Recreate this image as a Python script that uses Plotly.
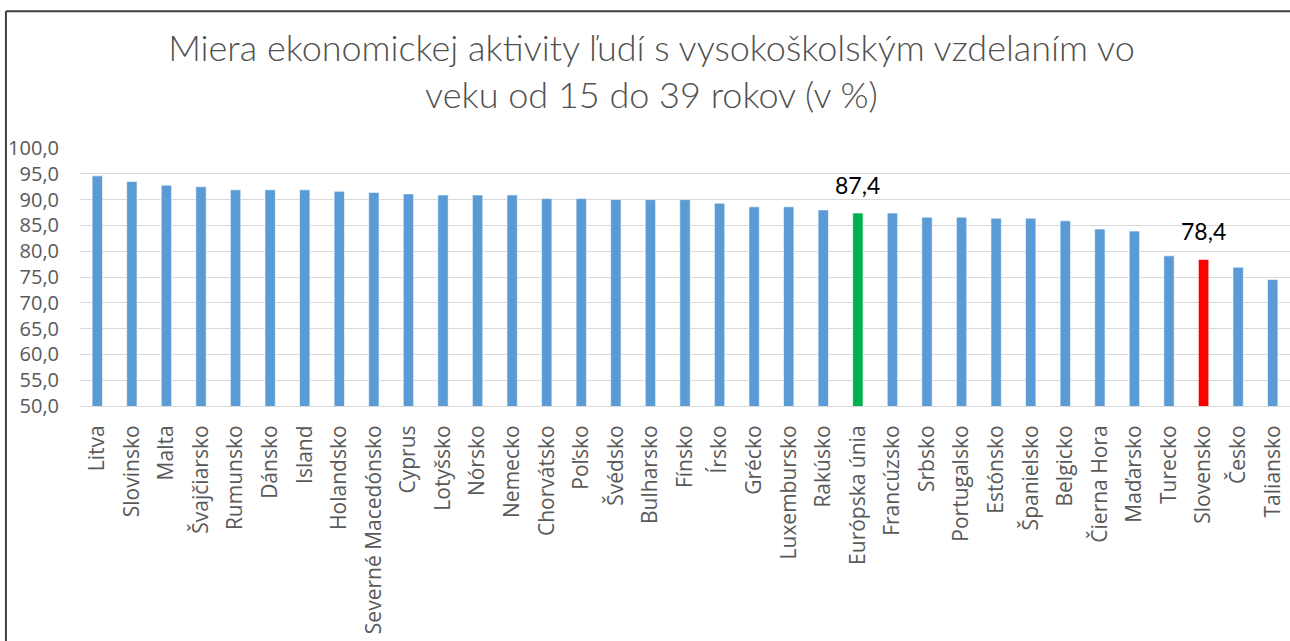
import plotly.graph_objects as go

categories = ["Litva", "Slovinsko", "Malta", "Švajčiarsko", "Rumunsko", "Dánsko", "Island",
              "Holandsko", "Severné Macedónsko", "Cyprus", "Lotyšsko", "Nórsko", "Nemecko",
              "Chorvátsko", "Poľsko", "Švédsko", "Bulharsko", "Fínsko", "Írsko", "Grécko",
              "Luxembursko", "Rakúsko", "Európska únia", "Francúzsko", "Srbsko", "Portugalsko",
              "Estónsko", "Španielsko", "Belgicko", "Čierna Hora", "Maďarsko", "Turecko",
              "Slovensko", "Česko", "Taliansko"]
values = [94.6, 93.5, 92.8, 92.5, 91.9, 91.9, 91.9, 91.6, 91.4, 91.1, 90.9, 90.9, 90.9,
          90.2, 90.2, 90.0, 90.0, 90.0, 89.3, 88.6, 88.6, 88.0, 87.4, 87.4, 86.6, 86.6,
          86.4, 86.4, 85.9, 84.3, 83.9, 79.1, 78.4, 76.9, 74.5]
highlight = {"Európska únia": "#00B050", "Slovensko": "#FF0000"}
y_ticks = [50, 55, 60, 65, 70, 75, 80, 85, 90, 95, 100]

colors = [highlight.get(c, "#5B9BD5") for c in categories]

fig = go.Figure(go.Bar(
    x=categories, y=values,
    marker=dict(color=colors, line=dict(color="rgba(255,255,255,0.6)", width=1)),
    width=0.3,
))

for c, v in zip(categories, values):
    if c in highlight:
        fig.add_annotation(x=c, y=v, text=f"{v:.1f}".replace(".", ","), showarrow=False,
                           yanchor="bottom", yshift=12,
                           font=dict(family="Lato", size=23, color="#000000"))

fig.update_layout(
    width=1290, height=641,
    margin=dict(l=80, r=0, t=148, b=235),
    paper_bgcolor="white", plot_bgcolor="white",
    separators=",.",
    showlegend=False,
    title=dict(text="Miera ekonomickej aktivity ľudí s vysokoškolským vzdelaním vo<br>veku od 15 do 39 rokov (v %)",
               x=0.505, xanchor="center", xref="container", y=0.905, yanchor="middle",
               font=dict(family="Lato", size=36, weight=300, color="#505050")),
    font=dict(family="Open Sans"),
)
fig.update_yaxes(range=[50, 100], tickvals=y_ticks, tickformat=".1f",
                 showgrid=True, gridcolor="#D9D9D9", gridwidth=1, zeroline=False,
                 showline=False, ticklabelstandoff=20,
                 tickfont=dict(family="Open Sans", size=20, color="#595959"))
fig.update_xaxes(tickangle=-90, showline=True, linecolor="#D9D9D9", linewidth=1,
                 ticks="outside", ticklen=10, tickcolor="rgba(0,0,0,0)",
                 tickfont=dict(family="Open Sans", size=21, color="#595959"))

# chart frame (left and top edges)
fig.add_shape(type="line", xref="paper", yref="paper", x0=-0.0612, x1=-0.0612, y0=-1.0, y1=1.53,
              line=dict(color="#404040", width=2))
fig.add_shape(type="line", xref="paper", yref="paper", x0=-0.0612, x1=1.0, y0=1.53, y1=1.53,
              line=dict(color="#404040", width=2))

fig.write_html("out.html", config={"displayModeBar": False},
               post_script="document.body.style.margin='0';document.body.style.overflow='hidden';")
